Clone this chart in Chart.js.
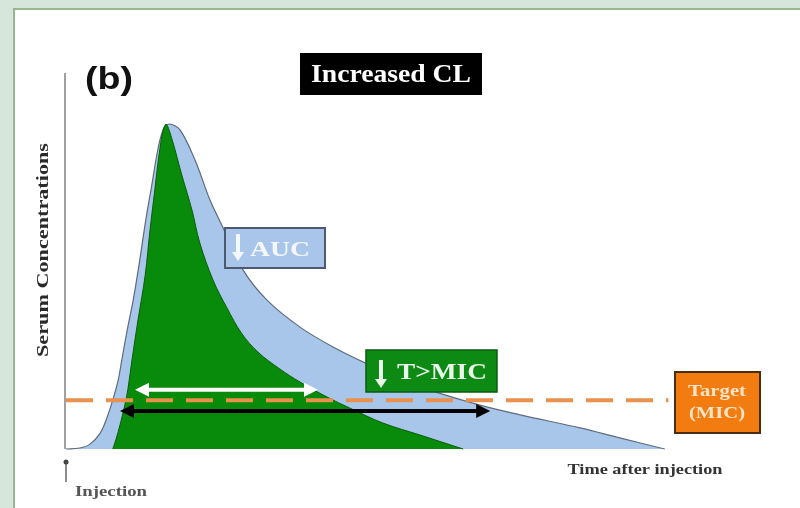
<!DOCTYPE html>
<html>
<head>
<meta charset="utf-8">
<script src="https://cdn.jsdelivr.net/npm/chart.js@4"></script>
<style>
  html, body { margin: 0; padding: 0; background: #d7e6da; }
  canvas { display: block; }
</style>
</head>
<body>
<canvas id="pkChart" width="800" height="508"></canvas>
<script>
// normal clearance curve (light blue)
const normalTime = [0, 2.3, 4, 5.7, 6.8, 7.8, 8.7, 9.3, 10.2, 11.2, 12.3, 13.3, 14.3, 15.3, 16.2, 17.2,
  19, 21.5, 24, 26.2, 29.5, 33.5, 39, 44.5, 50.2, 55.7, 61.2, 69, 75.7, 85.7, 92.3, 99.8];
const normalConc = [0, 0.3, 1.5, 4.9, 9.5, 15.1, 21.2, 27.4, 36.6, 45.8, 58.2, 70.5, 81.2, 92, 98.2, 100,
  98.2, 88.9, 76.6, 68, 55.1, 45.8, 37.5, 31.4, 26.2, 21.8, 17.8, 13.5, 10.5, 6.5, 3.4, 0];

// increased clearance curve (green)
const fastTime = [7.8, 8.3, 9, 9.8, 10.3, 11, 12, 13.2, 14, 14.8, 15.5, 16.2, 16.7,
  17.7, 19.3, 21, 22.3, 24.5, 26.8, 29.3, 32, 35.5, 39, 43.5, 47.3, 52.8, 59, 66.2];
const fastConc = [0, 2.8, 7.4, 13.5, 18.2, 27.4, 39.7, 53.5, 67.4, 79.7, 90.5, 98.2, 100,
  95.1, 84.3, 73.5, 63.4, 52, 43.5, 35.5, 29.8, 24.8, 20.6, 16, 12.6, 8, 4.3, 0];

// target level
const micLevel = 15;
const micTime = [0, 100.4];

// time above MIC arrows: [start, end, level]
const fastArrow = [11.5, 42, 18.2];
const normalArrow = [9, 70.7, 11.7];

const zip = (xs, ys) => xs.map((x, i) => ({ x: x, y: ys[i] }));

function label(ctx, text, cx, cy, font, color, w) {
  ctx.save();
  ctx.font = font;
  ctx.fillStyle = color;
  ctx.textAlign = 'center';
  ctx.textBaseline = 'middle';
  const m = ctx.measureText(text).width;
  ctx.translate(cx, cy);
  if (w) ctx.scale(w / m, 1);
  ctx.fillText(text, 0, 0);
  ctx.restore();
}

function box(ctx, x, y, w, h, fill, stroke, lw) {
  ctx.save();
  ctx.fillStyle = fill;
  ctx.fillRect(x, y, w, h);
  if (stroke) {
    ctx.strokeStyle = stroke;
    ctx.lineWidth = lw;
    ctx.strokeRect(x, y, w, h);
  }
  ctx.restore();
}

function downArrow(ctx, x, y1, y2, color) {
  ctx.save();
  ctx.fillStyle = color;
  ctx.fillRect(x - 2, y1, 4, y2 - y1 - 8);
  ctx.beginPath();
  ctx.moveTo(x - 6, y2 - 9);
  ctx.lineTo(x + 6, y2 - 9);
  ctx.lineTo(x, y2);
  ctx.closePath();
  ctx.fill();
  ctx.restore();
}

function doubleArrow(ctx, x1, x2, y, color) {
  ctx.save();
  ctx.strokeStyle = color;
  ctx.fillStyle = color;
  ctx.lineWidth = 4;
  ctx.beginPath();
  ctx.moveTo(x1 + 10, y);
  ctx.lineTo(x2 - 10, y);
  ctx.stroke();
  [[x1, 1], [x2, -1]].forEach(([x, d]) => {
    ctx.beginPath();
    ctx.moveTo(x, y);
    ctx.lineTo(x + d * 14, y - 7);
    ctx.lineTo(x + d * 14, y + 7);
    ctx.closePath();
    ctx.fill();
  });
  ctx.restore();
}

const decor = {
  id: 'decor',
  beforeDraw(chart) {
    const ctx = chart.ctx;
    ctx.save();
    ctx.fillStyle = '#d7e6da';
    ctx.fillRect(0, 0, 800, 508);
    ctx.fillStyle = '#ffffff';
    ctx.fillRect(14, 9, 800, 508);
    ctx.strokeStyle = '#9db58b';
    ctx.lineWidth = 2;
    ctx.beginPath();
    ctx.moveTo(14, 520);
    ctx.lineTo(14, 9);
    ctx.lineTo(810, 9);
    ctx.stroke();
    // y axis line
    ctx.strokeStyle = '#a0a0a0';
    ctx.lineWidth = 2;
    ctx.beginPath();
    ctx.moveTo(65, 73);
    ctx.lineTo(65, 449);
    ctx.stroke();
    ctx.restore();
  },
  afterDatasetsDraw(chart) {
    const ctx = chart.ctx;
    const xs = chart.scales.x, ys = chart.scales.y;

    doubleArrow(ctx, xs.getPixelForValue(fastArrow[0]), xs.getPixelForValue(fastArrow[1]),
      ys.getPixelForValue(fastArrow[2]), '#ffffff');
    doubleArrow(ctx, xs.getPixelForValue(normalArrow[0]), xs.getPixelForValue(normalArrow[1]),
      ys.getPixelForValue(normalArrow[2]), '#000000');

    // titles
    label(ctx, '(b)', 109, 80, 'bold 32px "Liberation Sans", Arial, sans-serif', '#111111', 48);
    box(ctx, 300, 53, 182, 42, '#000000');
    label(ctx, 'Increased CL', 391, 75, 'bold 26px "Liberation Serif", serif', '#ffffff', 160);

    // AUC box
    box(ctx, 225, 228, 100, 40, '#a9c6ea', '#4b5a6e', 2);
    downArrow(ctx, 238, 234, 261, '#f4f8fc');
    label(ctx, 'AUC', 280, 250, 'bold 22px "Liberation Serif", serif', '#f4f8fc', 60);

    // T>MIC box
    box(ctx, 366, 350, 131, 42, '#0c8a14', '#0a5a10', 1.5);
    downArrow(ctx, 381, 360, 388, '#eaf6ea');
    label(ctx, 'T>MIC', 442, 373, 'bold 24px "Liberation Serif", serif', '#eaf6ea', 90);

    // Target box
    box(ctx, 675, 372, 85, 61, '#f27c10', '#4a2c10', 2);
    label(ctx, 'Target', 717, 392, 'bold 17px "Liberation Serif", serif', '#fde4c8', 58);
    label(ctx, '(MIC)', 717, 414, 'bold 17px "Liberation Serif", serif', '#fde4c8', 56);

    // axis titles
    ctx.save();
    ctx.translate(44, 250);
    ctx.rotate(-Math.PI / 2);
    label(ctx, 'Serum Concentrations', 0, 0, 'bold 17px "Liberation Serif", serif', '#2a2a2a', 214);
    ctx.restore();
    label(ctx, 'Time after injection', 645, 470, 'bold 14px "Liberation Serif", serif', '#333333', 155);
    label(ctx, 'Injection', 111, 492, 'bold 14px "Liberation Serif", serif', '#555555', 72);

    // injection marker
    ctx.save();
    ctx.strokeStyle = '#666666';
    ctx.fillStyle = '#444444';
    ctx.lineWidth = 1.5;
    ctx.beginPath();
    ctx.moveTo(66, 482);
    ctx.lineTo(66, 462);
    ctx.stroke();
    ctx.beginPath();
    ctx.arc(66, 462, 2.5, 0, Math.PI * 2);
    ctx.fill();
    ctx.restore();
  }
};

const ctx = document.getElementById('pkChart').getContext('2d');
const pkChart = new Chart(ctx, {
  type: 'line',
  data: {
    datasets: [
      {
        label: 'MIC',
        data: zip(micTime, [micLevel, micLevel]),
        borderColor: '#e8904c',
        borderWidth: 4,
        borderDash: [27, 13],
        fill: false,
        order: 0
      },
      {
        label: 'Increased CL',
        data: zip(fastTime, fastConc),
        borderColor: '#0b5c0b',
        borderWidth: 1,
        backgroundColor: '#088a0a',
        fill: 'origin',
        tension: 0.35,
        order: 1
      },
      {
        label: 'Normal CL',
        data: zip(normalTime, normalConc),
        borderColor: '#5d6b7d',
        borderWidth: 1.2,
        backgroundColor: '#a8c5ea',
        fill: 'origin',
        tension: 0.35,
        order: 2
      }
    ]
  },
  options: {
    responsive: false,
    animation: false,
    clip: false,
    layout: { padding: { left: 66, right: 134, top: 124, bottom: 59 } },
    elements: { point: { radius: 0 } },
    scales: {
      x: { type: 'linear', min: 0, max: 100, display: false },
      y: { min: 0, max: 100, display: false }
    },
    plugins: {
      legend: { display: false },
      tooltip: { enabled: false }
    }
  },
  plugins: [decor]
});
</script>
</body>
</html>
